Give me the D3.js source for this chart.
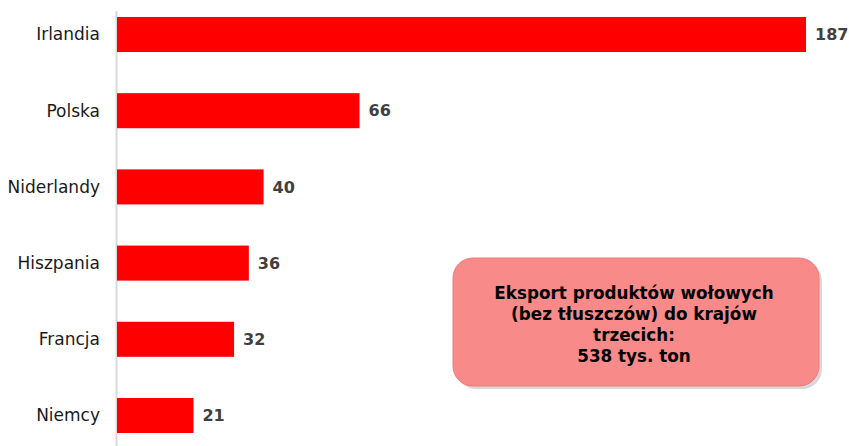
<!DOCTYPE html>
<html><head><meta charset="utf-8">
<script src="https://cdn.jsdelivr.net/npm/d3@7"></script>
<style>body{margin:0;background:#fff}svg{display:block}</style>
</head><body>
<script>
const categories = ["Irlandia","Polska","Niderlandy","Hiszpania","Francja","Niemcy"];
const values = [187,66,40,36,32,21];
const boxLines = ["Eksport produktów wołowych","(bez tłuszczów) do krajów","trzecich:","538 tys. ton"];

const W=849,H=446;
const svg=d3.select("body").append("svg").attr("width",W).attr("height",H);
const font="Verdana, 'DejaVu Sans', sans-serif";

const x=d3.scaleLinear().domain([0,187]).range([116,806]);
const y=d3.scaleBand().domain(categories).range([-3.6,453.6]).paddingInner(0.54).paddingOuter(0.27);

// axis line
svg.append("line").attr("x1",116.5).attr("x2",116.5).attr("y1",11).attr("y2",H)
  .attr("stroke","#d9d9d9").attr("stroke-width",2);

svg.selectAll("rect.bar").data(values).join("rect").attr("class","bar")
  .attr("x",x(0)+1).attr("y",(d,i)=>y(categories[i]))
  .attr("width",d=>x(d)-x(0)-1).attr("height",y.bandwidth()).attr("fill","#ff0000");

svg.selectAll("text.cat").data(categories).join("text").attr("class","cat")
  .attr("x",100).attr("y",d=>y(d)+y.bandwidth()/2).attr("dy","0.35em")
  .attr("text-anchor","end").attr("font-family",font).attr("font-size",17).attr("fill","#1a1a1a")
  .text(d=>d);

svg.selectAll("text.val").data(values).join("text").attr("class","val")
  .attr("x",d=>x(d)+9).attr("y",(d,i)=>y(categories[i])+y.bandwidth()/2).attr("dy","0.35em")
  .attr("font-family",font).attr("font-size",16).attr("font-weight","bold").attr("fill","#404040")
  .text(d=>d);

// info box
const bx=453,by=258,bw=366,bh=128;
svg.append("rect").attr("x",bx+3).attr("y",by+3).attr("width",bw).attr("height",bh)
  .attr("rx",20).attr("fill","#c8c8c8").attr("opacity",0.7);
svg.append("rect").attr("x",bx).attr("y",by).attr("width",bw).attr("height",bh)
  .attr("rx",20).attr("fill","#f98a8a").attr("stroke","#f07a7a").attr("stroke-width",1);
svg.selectAll("text.box").data(boxLines).join("text").attr("class","box")
  .attr("x",bx+bw/2-2).attr("y",(d,i)=>293+i*21).attr("dy","0.35em")
  .attr("text-anchor","middle").attr("font-family",font).attr("font-size",16.8).attr("font-weight","bold").attr("fill","#000")
  .text(d=>d);
</script>
</body></html>
